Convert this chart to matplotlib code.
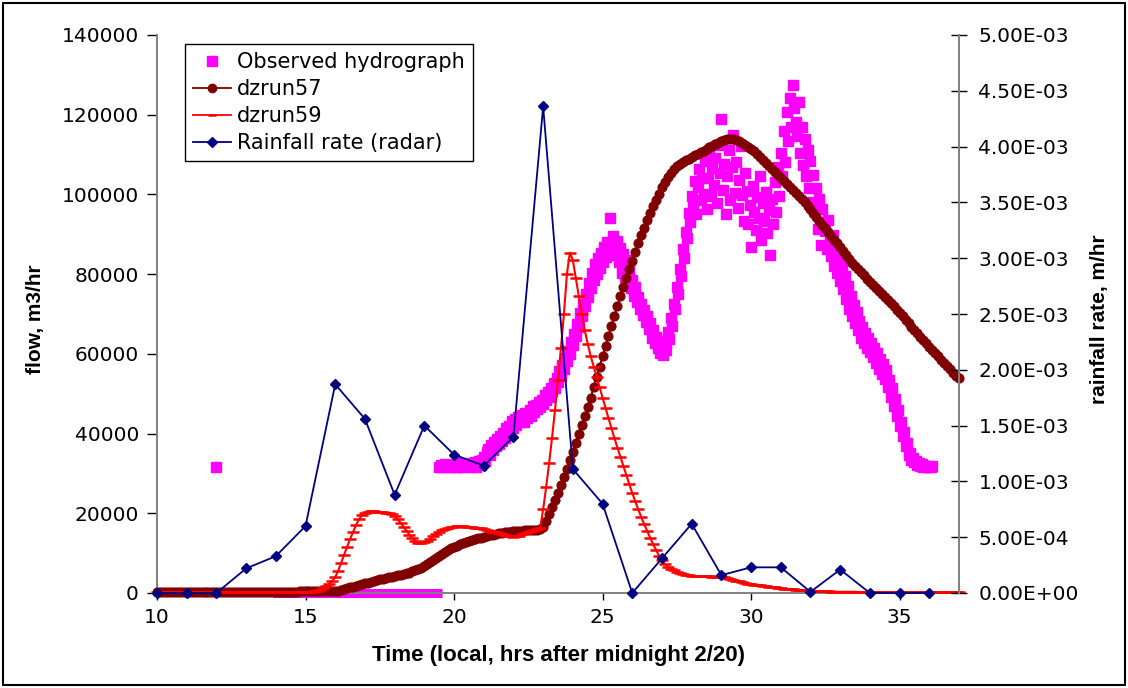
import numpy as np
import matplotlib
matplotlib.use("Agg")
import matplotlib.pyplot as plt
from matplotlib.lines import Line2D
from matplotlib.patches import Rectangle
from matplotlib.ticker import FuncFormatter

plt.rcParams['font.family'] = ['DejaVu Sans']

# ---------------------------------------------------------------------------
# Data
# ---------------------------------------------------------------------------
# Radar rainfall rate (m/hr), hourly from 10:00 to 36:00
rain_hours = [10, 11, 12, 13, 14, 15, 16, 17, 18, 19, 20, 21, 22, 23, 24,
              25, 26, 27, 28, 29, 30, 31, 32, 33, 34, 35, 36]
rain_rate = [0.0, 0.0, 0.0, 2.2e-4, 3.3e-4, 6.0e-4, 1.87e-3, 1.56e-3, 8.8e-4,
             1.50e-3, 1.24e-3, 1.14e-3, 1.40e-3, 4.36e-3, 1.11e-3, 8.0e-4,
             0.0, 3.1e-4, 6.2e-4, 1.6e-4, 2.3e-4, 2.3e-4, 1.0e-5, 2.1e-4,
             0.0, 0.0, 0.0]

# Model runs, flow in thousands of m3/hr, every 0.1 hr from 10.0 to 37.0
dzrun57_kflow = [
    0.3, 0.3, 0.3, 0.3, 0.3, 0.3, 0.3, 0.3, 0.3, 0.3,
    0.3, 0.3, 0.3, 0.3, 0.3, 0.3, 0.3, 0.3, 0.3, 0.3,
    0.3, 0.3, 0.3, 0.3, 0.3, 0.3, 0.3, 0.3, 0.3, 0.3,
    0.3, 0.3, 0.3, 0.3, 0.3, 0.3, 0.3, 0.3, 0.3, 0.3,
    0.3, 0.3, 0.3, 0.3, 0.3, 0.3, 0.3, 0.3, 0.4, 0.4,
    0.4, 0.4, 0.4, 0.4, 0.4, 0.4, 0.4, 0.4, 0.4, 0.5,
    0.5, 0.6, 0.8, 1.0, 1.2, 1.4, 1.6, 1.8, 2.0, 2.2,
    2.4, 2.6, 2.8, 3.0, 3.2, 3.4, 3.6, 3.8, 3.9, 4.0,
    4.2, 4.4, 4.5, 4.7, 4.9, 5.1, 5.4, 5.7, 6.0, 6.3,
    6.7, 7.2, 7.7, 8.3, 8.9, 9.4, 9.9, 10.4, 10.8, 11.2,
    11.6, 11.9, 12.2, 12.5, 12.8, 13.1, 13.3, 13.5, 13.7, 13.9,
    14.1, 14.3, 14.5, 14.6, 14.8, 15.0, 15.1, 15.2, 15.3, 15.4,
    15.5, 15.5, 15.6, 15.6, 15.7, 15.7, 15.8, 15.8, 15.9, 16.0,
    16.6, 18.1, 19.8, 21.5, 23.3, 25.1, 27.0, 29.0, 31.1, 33.3,
    35.5, 37.7, 40.0, 42.2, 44.4, 46.6, 49.0, 51.6, 54.2, 56.8,
    59.4, 62.0, 64.6, 67.1, 69.6, 72.0, 74.4, 76.7, 79.0, 81.2,
    83.4, 85.6, 87.7, 89.7, 91.7, 93.6, 95.4, 97.1, 98.7, 100.2,
    101.8, 103.2, 104.4, 105.5, 106.4, 107.1, 107.7, 108.2, 108.6, 109.0,
    109.4, 109.8, 110.2, 110.6, 111.0, 111.4, 111.8, 112.2, 112.6, 113.0,
    113.4, 113.7, 113.9, 113.9, 113.8, 113.6, 113.3, 112.9, 112.5, 112.0,
    111.4, 110.8, 110.1, 109.4, 108.7, 108.0, 107.2, 106.4, 105.6, 104.8,
    104.0, 103.3, 102.5, 101.8, 101.0, 100.3, 99.5, 98.8, 98.0, 97.2,
    96.3, 95.3, 94.4, 93.4, 92.4, 91.5, 90.5, 89.6, 88.6, 87.7,
    86.7, 85.8, 84.8, 83.9, 82.9, 82.1, 81.3, 80.5, 79.7, 78.9,
    78.1, 77.3, 76.6, 75.8, 75.1, 74.3, 73.5, 72.7, 71.9, 71.1,
    70.2, 69.4, 68.5, 67.7, 66.8, 66.0, 65.2, 64.3, 63.5, 62.7,
    61.8, 61.0, 60.2, 59.4, 58.5, 57.7, 56.9, 56.1, 55.3, 54.5,
    53.9,
]

dzrun59_kflow = [
    0.2, 0.2, 0.2, 0.2, 0.2, 0.2, 0.2, 0.2, 0.2, 0.2,
    0.2, 0.2, 0.2, 0.2, 0.2, 0.2, 0.2, 0.2, 0.2, 0.2,
    0.2, 0.2, 0.2, 0.2, 0.2, 0.2, 0.2, 0.2, 0.2, 0.2,
    0.2, 0.2, 0.2, 0.2, 0.2, 0.2, 0.2, 0.2, 0.2, 0.2,
    0.2, 0.2, 0.2, 0.2, 0.2, 0.2, 0.2, 0.2, 0.2, 0.2,
    0.2, 0.3, 0.3, 0.4, 0.5, 0.8, 1.2, 1.7, 2.3, 3.0,
    4.0, 5.6, 7.6, 9.6, 11.6, 13.5, 15.3, 17.0, 18.5, 19.5,
    20.1, 20.4, 20.5, 20.5, 20.4, 20.3, 20.2, 20.1, 20.0, 19.9,
    19.3, 18.5, 17.6, 16.6, 15.6, 14.6, 13.7, 13.0, 12.6, 12.5,
    12.7, 13.1, 13.6, 14.2, 14.8, 15.3, 15.7, 16.0, 16.3, 16.5,
    16.6, 16.7, 16.7, 16.7, 16.6, 16.6, 16.5, 16.4, 16.3, 16.2,
    16.0, 15.8, 15.6, 15.4, 15.2, 15.0, 14.8, 14.6, 14.4, 14.2,
    14.1, 14.2, 14.4, 14.7, 15.0, 15.3, 15.6, 15.8, 16.0, 16.3,
    21.0, 26.5, 32.5, 39.0, 46.0, 53.5, 61.5, 70.0, 80.0, 85.4,
    83.5, 79.0, 74.5, 70.0, 66.0, 62.5, 59.5, 56.8, 54.3, 51.6,
    49.0, 46.4, 43.8, 41.3, 38.9, 36.5, 34.2, 31.9, 29.6, 27.3,
    25.1, 23.0, 21.0, 19.1, 17.3, 15.6, 13.9, 12.3, 10.8, 9.4,
    8.2, 7.3, 6.6, 6.1, 5.7, 5.3, 5.0, 4.8, 4.6, 4.4,
    4.3, 4.2, 4.2, 4.2, 4.2, 4.2, 4.2, 4.1, 4.1, 4.0,
    4.0, 3.9, 3.7, 3.5, 3.3, 3.1, 2.9, 2.7, 2.5, 2.3,
    2.2, 2.1, 2.0, 1.9, 1.8, 1.7, 1.6, 1.5, 1.4, 1.3,
    1.2, 1.1, 1.0, 0.95, 0.9, 0.85, 0.8, 0.75, 0.7, 0.65,
    0.6, 0.55, 0.5, 0.5, 0.45, 0.4, 0.4, 0.35, 0.35, 0.3,
    0.3, 0.3, 0.3, 0.3, 0.3, 0.3, 0.25, 0.25, 0.25, 0.25,
    0.2, 0.2, 0.2, 0.2, 0.2, 0.2, 0.2, 0.2, 0.2, 0.2,
    0.2, 0.2, 0.2, 0.2, 0.2, 0.2, 0.2, 0.2, 0.2, 0.2,
    0.2, 0.2, 0.2, 0.2, 0.2, 0.2, 0.2, 0.2, 0.2, 0.2,
    0.2,
]

# Observed hydrograph, thousands of m3/hr, every 0.05 hr from 19.5 to 36.1
observed_kflow = [
    31.6, 32.1, 31.5, 31.8, 32.4, 31.6, 31.9, 32.2, 31.5, 31.8,
    32.0, 31.6, 32.5, 31.7, 31.9, 32.3, 31.5, 32.0, 32.6, 31.8,
    31.9, 32.4, 31.6, 32.2, 32.8, 31.7, 32.5, 33.1, 32.0, 33.4,
    34.2, 33.0, 35.5, 36.1, 34.6, 37.2, 35.8, 38.0, 36.9, 38.6,
    37.5, 39.4, 38.2, 40.1, 39.0, 41.3, 40.2, 42.0, 40.8, 43.1,
    41.5, 43.6, 42.2, 44.1, 42.8, 43.5, 44.6, 42.9, 45.2, 43.8,
    44.9, 46.0, 44.3, 46.8, 45.5, 47.2, 46.1, 48.0, 46.6, 48.5,
    47.4, 49.6, 48.3, 50.5, 49.2, 51.4, 50.6, 52.8, 51.5, 53.9,
    53.0, 55.6, 54.4, 57.2, 56.3, 59.0, 58.1, 60.8, 60.0, 62.9,
    62.3, 65.1, 64.5, 67.4, 66.8, 70.2, 69.5, 72.6, 72.0, 75.1,
    74.3, 77.8, 76.5, 80.2, 78.6, 82.5, 80.1, 84.0, 81.6, 85.3,
    83.0, 86.9, 84.2, 88.1, 85.5, 94.0, 86.4, 89.5, 84.9, 87.2,
    88.3, 83.1, 86.6, 80.4, 85.1, 79.2, 83.5, 77.9, 81.0, 76.4,
    78.5, 74.6, 76.8, 72.9, 74.2, 71.3, 72.6, 69.8, 70.9, 68.1,
    69.4, 66.2, 67.8, 64.1, 65.9, 62.6, 64.3, 61.4, 62.9, 60.2,
    61.5, 59.8, 63.2, 61.0, 65.4, 63.8, 68.9, 67.1, 72.5, 71.2,
    76.8, 75.0, 81.4, 79.6, 86.2, 84.1, 90.5, 89.0, 95.3, 93.2,
    99.6, 97.0, 103.4, 95.2, 101.8, 106.3, 98.5, 104.0, 100.2, 108.5,
    96.4, 104.2, 110.8, 99.5, 106.6, 102.3, 109.1, 97.8, 112.4, 105.5,
    118.8, 101.2, 107.6, 95.1, 104.6, 111.2, 98.7, 106.9, 115.0, 100.4,
    108.2, 96.6, 103.5, 112.1, 99.8, 93.4, 105.3, 100.9, 92.6, 97.4,
    86.8, 102.1, 95.6, 91.2, 99.3, 94.0, 104.7, 88.6, 97.8, 93.3,
    100.5, 90.4, 96.2, 84.8, 98.9, 92.5, 103.1, 95.7, 106.8, 99.6,
    110.4, 104.6, 115.9, 108.2, 120.7, 113.5, 124.3, 117.0, 127.5, 121.6,
    118.2, 114.7, 123.1, 110.5, 116.8, 107.3, 113.9, 104.6, 111.2, 101.7,
    108.4, 98.2, 104.9, 95.6, 101.5, 91.3, 98.8, 87.4, 96.4, 93.0,
    90.7, 86.2, 93.5, 88.8, 84.6, 89.9, 82.1, 86.5, 80.3, 84.2,
    78.4, 81.7, 76.2, 79.6, 73.8, 76.9, 71.2, 74.5, 69.6, 72.3,
    67.8, 70.6, 65.9, 68.3, 64.1, 66.8, 62.7, 65.2, 61.5, 63.9,
    60.4, 62.8, 59.1, 61.5, 57.6, 60.2, 56.3, 58.8, 54.9, 57.4,
    53.6, 55.9, 51.8, 53.4, 49.2, 51.5, 46.8, 48.6, 44.3, 45.9,
    41.8, 42.9, 39.5, 40.3, 36.8, 37.6, 34.6, 35.2, 33.4, 33.9,
    32.8, 33.2, 32.1, 32.6, 31.9, 32.3, 31.7, 31.9, 31.6, 31.8,
    31.7, 31.6, 31.8,
]
observed_start_hour = 19.5
observed_step_hour = 0.05

# Gauge reading zero before the rise, and one isolated early reading
observed_zero_hours = [13.9, 19.6]
observed_zero_flow = [0.0, 0.0]
observed_isolated_hour = [12.0]
observed_isolated_flow = [31700.0]

model_start_hour = 10.0
model_step_hour = 0.1

series_labels = ["Observed hydrograph", "dzrun57", "dzrun59",
                 "Rainfall rate (radar)"]

# ---------------------------------------------------------------------------
# Derived arrays
# ---------------------------------------------------------------------------
model_hours = model_start_hour + model_step_hour * np.arange(len(dzrun57_kflow))
dzrun57 = np.array(dzrun57_kflow) * 1000.0
dzrun59 = np.array(dzrun59_kflow) * 1000.0
obs_hours = observed_start_hour + observed_step_hour * np.arange(len(observed_kflow))
obs_flow = np.array(observed_kflow) * 1000.0

MAGENTA = "#FF00FF"
MAROON = "#800000"
RED = "#FF0000"
NAVY = "#000080"
AXIS_GREY = "#808080"

# ---------------------------------------------------------------------------
# Figure
# ---------------------------------------------------------------------------
W, H = 1128, 688
fig = plt.figure(figsize=(W / 100, H / 100), dpi=100)
left, right, top, bottom = 157, 959, 35, 593
ax = fig.add_axes([left / W, 1 - bottom / H, (right - left) / W, (bottom - top) / H])
ax2 = ax.twinx()

# Flow series on the primary axis
ax.plot(observed_zero_hours, observed_zero_flow, color=MAGENTA, lw=6.5,
        solid_capstyle="butt", clip_on=False, zorder=2)
ax.plot(observed_isolated_hour, observed_isolated_flow, ls="none", marker="s",
        ms=6.8, color=MAGENTA, mec=MAGENTA, zorder=2)
ax.plot(obs_hours, obs_flow, ls="none", marker="s", ms=7.3, color=MAGENTA,
        mec=MAGENTA, clip_on=False, zorder=2)
ax.plot(model_hours, dzrun57, color=MAROON, lw=1.5, marker="o", ms=6.3,
        mec=MAROON, mfc=MAROON, clip_on=False, zorder=3)
ax.plot(model_hours, dzrun59, color=RED, lw=1.5, marker="_", ms=8.5,
        mew=1.8, clip_on=False, zorder=4)

# Rainfall on the secondary axis
ax2.plot(rain_hours, rain_rate, color=NAVY, lw=1.3, marker="D", ms=5.5,
         mec=NAVY, mfc=NAVY, clip_on=False, zorder=5)

# Axes limits and ticks
ax.set_xlim(10, 37)
ax.set_ylim(0, 140000)
ax.set_xticks([10, 15, 20, 25, 30, 35])
ax.set_yticks(np.arange(0, 140001, 20000))
ax.yaxis.set_major_formatter(FuncFormatter(lambda v, p: f"{int(round(v))}"))
ax2.set_ylim(0, 0.005)
ax2.set_yticks(np.arange(0, 0.00501, 0.0005))
ax2.yaxis.set_major_formatter(FuncFormatter(lambda v, p: f"{v:.2E}"))

tick_size = 14.5
ax.tick_params(axis="y", direction="out", length=7, width=1, color="black",
               pad=6, labelsize=tick_size)
ax.tick_params(axis="x", direction="out", length=5, width=1, color="black",
               pad=6, labelsize=tick_size)
ax2.tick_params(axis="y", direction="inout", length=12, width=1, color="black",
                pad=8, labelsize=tick_size)

for name in ("top", "right"):
    ax.spines[name].set_visible(False)
for name in ("left", "bottom"):
    ax.spines[name].set_color(AXIS_GREY)
    ax.spines[name].set_linewidth(1.4)
for name in ("top", "left", "bottom"):
    ax2.spines[name].set_visible(False)
ax2.spines["right"].set_color(AXIS_GREY)
ax2.spines["right"].set_linewidth(1.4)

# Axis titles
title_font = dict(family=["Liberation Sans", "DejaVu Sans"], weight="bold")
ax.set_xlabel("Time (local, hrs after midnight 2/20)", fontsize=16, **title_font)
ax.set_ylabel("flow, m3/hr", fontsize=15, **title_font)
ax2.set_ylabel("rainfall rate, m/hr", fontsize=15, rotation=90, **title_font)
ax.xaxis.label.set_verticalalignment("center")
ax.yaxis.label.set_verticalalignment("center")
ax2.yaxis.label.set_verticalalignment("center")
ax.xaxis.set_label_coords((558 - left) / (right - left), (bottom - 655) / (bottom - top))
ax.yaxis.set_label_coords((35 - left) / (right - left), 0.49)
ax2.yaxis.set_label_coords((1100 - left) / (right - left), 0.49)

# Legend
handles = [
    Line2D([], [], ls="none", marker="s", ms=6.5, color=MAGENTA, mec=MAGENTA),
    Line2D([], [], color=MAROON, lw=1.3, marker="o", ms=6),
    Line2D([], [], color=RED, lw=1.3, marker="_", ms=6, mew=1.8),
    Line2D([], [], color=NAVY, lw=1.3, marker="D", ms=5.5),
]
leg = ax2.legend(handles, series_labels, loc="upper left",
                 bbox_to_anchor=((185 - left) / (right - left), (bottom - 44) / (bottom - top)),
                 borderaxespad=0, fontsize=15, frameon=True, fancybox=False,
                 edgecolor="black", framealpha=1, handlelength=1.8,
                 handletextpad=0.3, labelspacing=0.33, borderpad=0.4)
leg.get_frame().set_linewidth(1.0)
leg.set_zorder(10)

# Outer chart border
fig.patches.append(Rectangle((0.003, 0.004), 0.994, 0.991, transform=fig.transFigure,
                             fill=False, edgecolor="black", linewidth=1.5))

fig.savefig("out.png", dpi=100)
